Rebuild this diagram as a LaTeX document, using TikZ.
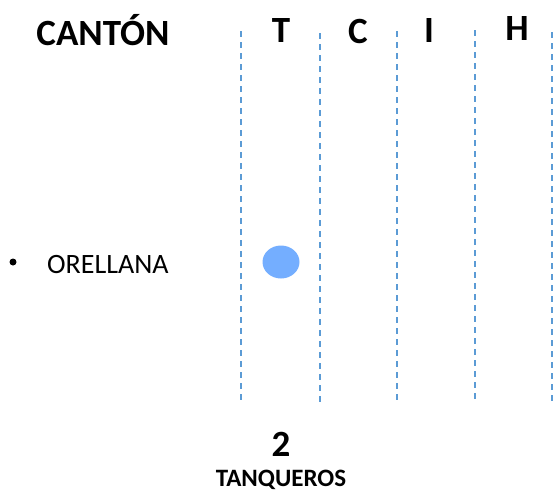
\documentclass[tikz,border=0pt]{standalone}
\usepackage{fontspec}
\setmainfont{Carlito}
\definecolor{sepblue}{RGB}{91,155,213}
\definecolor{dotblue}{RGB}{116,174,255}
\tikzset{
    header/.style={font=\bfseries\fontsize{37}{41}\selectfont, inner sep=0pt},
    sepline/.style={sepblue, line width=1.6pt, dash pattern=on 6pt off 5pt},
    canton/.style={font=\fontsize{28}{32}\selectfont, inner sep=0pt, anchor=west}
}
\begin{document}
\begin{tikzpicture}[x=1pt, y=-1pt]

    \useasboundingbox (0, 0) rectangle (553, 493);

    % Column headers
    \node[header] (canton) at (103, 30) {CANTÓN};
    \node[header] (colT) at (281, 31) {T};
    \node[header] (colC) at (358, 31) {C};
    \node[header] (colI) at (429, 31) {I};
    \node[header] (colH) at (517, 29) {H};

    % Draw the dashed separators between the columns
    \draw[sepline] (241, 31) -- (241, 402);
    \draw[sepline] (320, 33) -- (320, 402);
    \draw[sepline] (397, 31) -- (397, 400);
    \draw[sepline] (475, 30) -- (475, 400);
    \draw[sepline] (552, 32) -- (552, 402);

    % Row with the bullet and its mark
    \fill (13, 262) circle (3.5);
    \node[canton] (orellana) at (47, 265) {ORELLANA};
    \fill[dotblue] (281, 262) ellipse (18.5 and 16.5);

    % Total at the bottom
    \node[font=\bfseries\fontsize{37}{41}\selectfont, inner sep=0pt, anchor=base] (total) at (281, 456) {2};
    \node[font=\bfseries\fontsize{25}{29}\selectfont, inner sep=0pt, anchor=base] (tanqueros) at (281, 486) {TANQUEROS};

\end{tikzpicture}
\end{document}
